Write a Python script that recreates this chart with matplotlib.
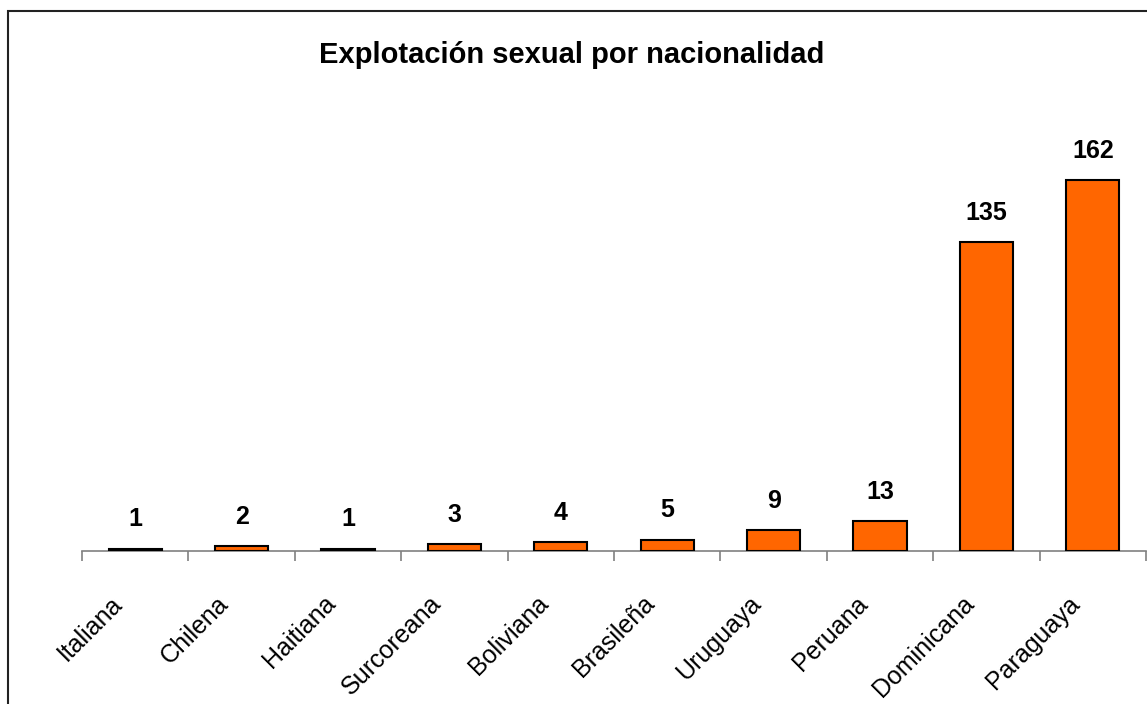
import matplotlib
matplotlib.use('Agg')
import matplotlib.pyplot as plt
from matplotlib.patches import Rectangle
from matplotlib.transforms import ScaledTranslation

# Datos
nacionalidades = ['Italiana', 'Chilena', 'Haitiana', 'Surcoreana', 'Boliviana',
                  'Brasileña', 'Uruguaya', 'Peruana', 'Dominicana', 'Paraguaya']
casos = [1, 2, 1, 3, 4, 5, 9, 13, 135, 162]
titulo = 'Explotación sexual por nacionalidad'

plt.rcParams['font.family'] = ['Liberation Sans', 'DejaVu Sans']

W, H = 1147, 704
fig = plt.figure(figsize=(W / 100, H / 100), dpi=100)

# ejes: eje x en y=551 px, de x=82 a x=1146 px; 2.29 px por unidad
ymax = 180
top_px = 551 - ymax * 2.29
ax = fig.add_axes([82 / W, (H - 551) / H, (1146 - 82) / W, (551 - top_px) / H])

x = list(range(len(nacionalidades)))
ax.bar(x, casos, width=0.5, color='#FF6600', edgecolor='black', linewidth=1.5, zorder=3)

for xi, v in zip(x, casos):
    ax.annotate(str(v), (xi, v), xytext=(0, 16), textcoords='offset points',
                ha='center', va='baseline', fontsize=18, fontweight='bold')

ax.set_xlim(-0.5, len(nacionalidades) - 0.5)
ax.set_ylim(0, ymax)

for s in ['top', 'right', 'left']:
    ax.spines[s].set_visible(False)
ax.spines['bottom'].set_color('#808080')
ax.spines['bottom'].set_linewidth(1.2)
ax.set_yticks([])

# marcas entre categorías
ax.set_xticks([i - 0.5 for i in range(len(nacionalidades) + 1)])
ax.set_xticklabels([])
ax.tick_params(axis='x', which='major', length=7, width=1.2, color='#808080', direction='out')
ax.set_xticks(x, minor=True)
ax.set_xticklabels(nacionalidades, minor=True, rotation=45, ha='right',
                   rotation_mode='anchor', fontsize=18)
ax.tick_params(axis='x', which='minor', length=0, pad=29)
desplaza = ScaledTranslation(-25 / 100, 0, fig.dpi_scale_trans)
for lbl in ax.get_xticklabels(minor=True):
    lbl.set_transform(lbl.get_transform() + desplaza)

fig.text(0.498, 1 - 63 / H, titulo, ha='center', va='baseline',
         fontsize=21, fontweight='bold')

# marco del gráfico
fig.patches.append(Rectangle((8 / W, -0.05), 1.1, 1 - 11 / H + 0.05, transform=fig.transFigure,
                             fill=False, edgecolor='#222222', linewidth=1.5, clip_on=False))

fig.savefig('out.png', dpi=100)
